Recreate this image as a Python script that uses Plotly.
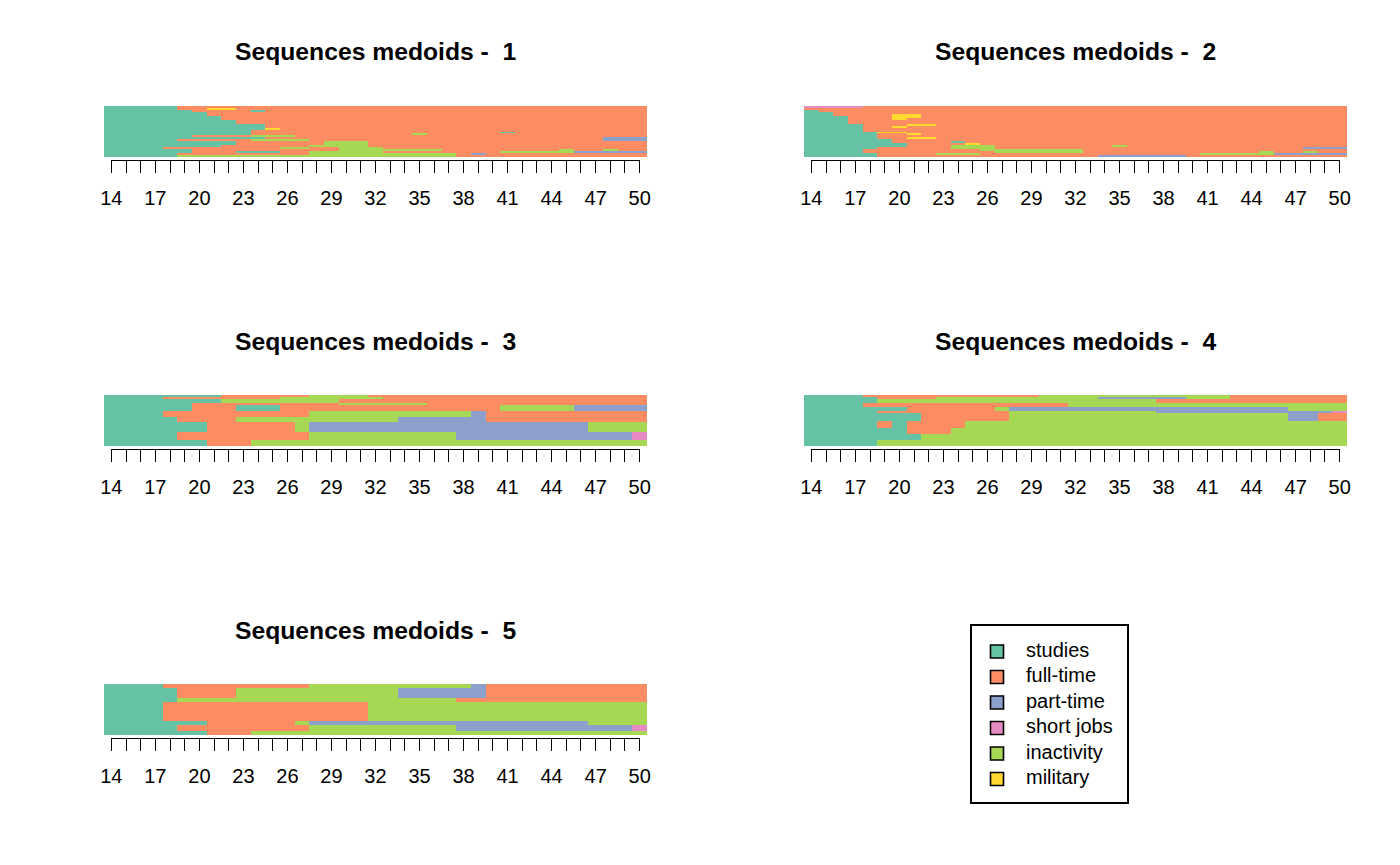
import plotly.graph_objects as go
import numpy as np

# states of the sequences and their colours
STATES = ["studies", "full-time", "part-time", "short jobs", "inactivity", "military"]
CODES = ["S", "F", "P", "J", "I", "M"]
COLORS = ["#66C2A5", "#FC8D62", "#8DA0CB", "#E78AC3", "#A6D854", "#FFD92F"]

AGES = list(range(14, 51))
LABELED_AGES = [14, 17, 20, 23, 26, 29, 32, 35, 38, 41, 44, 47, 50]

# medoid sequences of each cluster, top to bottom, as runs of states
# (S studies, F full-time, P part-time, J short jobs, I inactivity, M military)
CLUSTER1_SEQ = [
    "S5 F32", "S5 F2 M2 F28", "S6 F4 S1 F26", "S7 F30", "S7 F30",
    "S8 F29", "S8 F29", "S9 F28", "S9 F28", "S11 F26", "S11 F26",
    "S11 M1 F25", "S10 F27", "S10 F17 S1 F9", "S10 F11 I1 F15",
    "S6 F4 I3 F24", "S11 F23 P3", "S5 F5 I4 F20 P3", "S9 F6 I3 F19",
    "S9 F6 I3 F19", "S8 F6 I4 F19", "S4 F8 I2 F2 I3 F18",
    "S6 F10 I7 F8 I1 F2 I1 F2", "S6 F3 S3 F2 I5 F8 I5 P5",
    "S5 F9 I10 F1 P1 F11", "S5 I19 F13",
]
CLUSTER1_WEIGHT = [1] * 26

CLUSTER2_SEQ = [
    "J4 F33", "F37", "S1 F36", "S2 F35", "S2 F4 M2 F29", "S3 F3 M2 F29",
    "S3 F3 M1 F30", "S3 F34", "S3 F34", "S4 F3 M2 F28", "S4 F2 M1 F30",
    "S4 F33", "S4 F33", "S5 M2 F30", "S5 F2 M1 F29", "S5 F32",
    "S5 F2 M2 F28", "S6 F31", "S6 F4 S1 F26", "S7 F4 M1 F25",
    "S7 F3 I3 F8 I1 F15", "S5 F5 I3 F21 P3", "S4 F8 I7 F18",
    "S4 F9 I6 F12 I1 F2 I1 F2", "S5 F4 I3 F15 I5 P5", "S5 F15 P6 F11",
]
CLUSTER2_WEIGHT = [1] * 26

CLUSTER3_SEQ = [
    "S8 F6 I4 F19", "S4 F8 I7 F18", "S8 I8 F21", "S6 F10 I6 F15",
    "S6 F3 S3 F15 I5 P5", "S4 F10 I11 P1 F11", "S5 F4 I11 P6 F11",
    "S7 F6 I1 P19 I4", "S5 F9 I10 P12 J1", "S7 F3 I27",
]
CLUSTER3_WEIGHT = [1, 1, 2, 1, 3, 3, 2, 5, 4, 3]

CLUSTER4_SEQ = [
    "S4 F12 I13 F8", "S5 F4 I11 P6 I3 F8", "S5 I19 F13", "S4 F14 I19",
    "S7 F6 I1 P19 I4", "S5 F9 I10 P12 J1", "S8 F6 I19 P2 F2",
    "S5 F1 S1 F4 I26", "S7 F3 I27", "S8 I29", "S5 I32",
]
CLUSTER4_WEIGHT = [1, 1, 2, 2, 2, 1, 4, 4, 3, 3, 3]

CLUSTER5_SEQ = [
    "S4 F10 I11 P1 F11", "S5 F4 I11 P6 F11", "S5 I19 F13", "S4 F14 I19",
    "S7 F6 I1 P19 I4", "S5 F9 I10 P12 J1", "S7 F3 I27",
]
CLUSTER5_WEIGHT = [2, 5, 2, 9, 2, 3, 2]

CLUSTERS = [
    (CLUSTER1_SEQ, CLUSTER1_WEIGHT),
    (CLUSTER2_SEQ, CLUSTER2_WEIGHT),
    (CLUSTER3_SEQ, CLUSTER3_WEIGHT),
    (CLUSTER4_SEQ, CLUSTER4_WEIGHT),
    (CLUSTER5_SEQ, CLUSTER5_WEIGHT),
]


def expand(rle):
    row = []
    for tok in rle.split():
        row += [CODES.index(tok[0])] * int(tok[1:])
    assert len(row) == len(AGES), rle
    return row


W, H = 1400, 865
FONT = "Liberation Sans, Arial, Helvetica, sans-serif"
PANEL_LEFT = [104, 804]
PANEL_W = 543
BAR_TOP = [106, 395, 684]
BAR_H = 51
CELL = PANEL_W / len(AGES)

colorscale = [[i / (len(COLORS) - 1), c] for i, c in enumerate(COLORS)]
tick_text = [str(a) if a in LABELED_AGES else "" for a in AGES]

fig = go.Figure()
layout = {}
annotations = []

for k, (seqs, weights) in enumerate(CLUSTERS):
    n = k + 1
    left = PANEL_LEFT[k % 2]
    top = BAR_TOP[k // 2]
    z = [expand(s) for s in seqs]
    edges = np.concatenate([[0], np.cumsum(weights)]).tolist()

    xa = "x" if n == 1 else f"x{n}"
    ya = "y" if n == 1 else f"y{n}"
    fig.add_trace(go.Heatmap(
        z=z, x=AGES, y=edges,
        colorscale=colorscale, zmin=0, zmax=len(COLORS) - 1,
        showscale=False, xaxis=xa, yaxis=ya, hoverinfo="skip",
    ))
    layout[f"xaxis{'' if n == 1 else n}"] = dict(
        domain=[left / W, (left + PANEL_W) / W],
        range=[AGES[0] - 0.5, AGES[-1] + 0.5],
        visible=False, anchor=ya,
    )
    layout[f"yaxis{'' if n == 1 else n}"] = dict(
        domain=[1 - (top + BAR_H) / H, 1 - top / H],
        range=[edges[-1], 0],
        visible=False, anchor=xa,
    )

    # separate axis carrying the R-style ticks (line only from first to last tick)
    tn = n + 5
    fig.add_trace(go.Scatter(x=[], y=[], xaxis=f"x{tn}", yaxis=ya,
                             showlegend=False, hoverinfo="skip"))
    layout[f"xaxis{tn}"] = dict(
        domain=[(left + CELL / 2) / W, (left + PANEL_W - CELL / 2) / W],
        range=[AGES[0], AGES[-1]],
        anchor="free", position=1 - (top + BAR_H + 3) / H,
        showline=True, linecolor="black", linewidth=1,
        ticks="outside", ticklen=12, tickwidth=1, tickcolor="black",
        tickvals=AGES, ticktext=tick_text,
        tickfont=dict(family=FONT, size=20, color="black"),
        ticklabelstandoff=8, automargin=False,
        showgrid=False, zeroline=False,
    )

    annotations.append(dict(
        x=(left + PANEL_W / 2) / W, y=1 - (top - 54) / H,
        xref="paper", yref="paper", showarrow=False,
        text=f"<b>Sequences medoids - \u00a0{n}</b>",
        font=dict(family=FONT, size=24.7, color="black"),
        xanchor="center", yanchor="middle",
    ))

# legend drawn as its own little boxed panel
fig.add_trace(go.Scatter(
    x=[25] * len(STATES), y=list(range(len(STATES))), mode="markers",
    marker=dict(symbol="square", size=13, color=COLORS,
                line=dict(color="black", width=1.6)),
    xaxis="x11", yaxis="y11", showlegend=False, hoverinfo="skip",
))
fig.add_trace(go.Scatter(
    x=[54] * len(STATES), y=list(range(len(STATES))), mode="text",
    text=STATES, textposition="middle right",
    textfont=dict(family=FONT, size=20, color="black"),
    xaxis="x11", yaxis="y11", showlegend=False, hoverinfo="skip",
))
layout["xaxis11"] = dict(
    domain=[972 / W, 1127 / W], range=[0, 155], anchor="y11",
    showline=True, mirror=True, linecolor="black", linewidth=1.5,
    showticklabels=False, ticks="", showgrid=False, zeroline=False,
)
layout["yaxis11"] = dict(
    domain=[1 - 802 / H, 1 - 626 / H], range=[5.9, -1.0], anchor="x11",
    showline=True, mirror=True, linecolor="black", linewidth=1.5,
    showticklabels=False, ticks="", showgrid=False, zeroline=False,
)

fig.update_layout(
    width=W, height=H,
    margin=dict(l=0, r=0, t=0, b=0, pad=0, autoexpand=False),
    paper_bgcolor="white", plot_bgcolor="rgba(0,0,0,0)",
    showlegend=False,
    annotations=annotations,
    **layout,
)

# drop the browser's default 8px body margin so the figure sits at the page origin
fig.write_html("out.html", config={"displayModeBar": False},
               post_script="document.body.style.margin='0px';")
